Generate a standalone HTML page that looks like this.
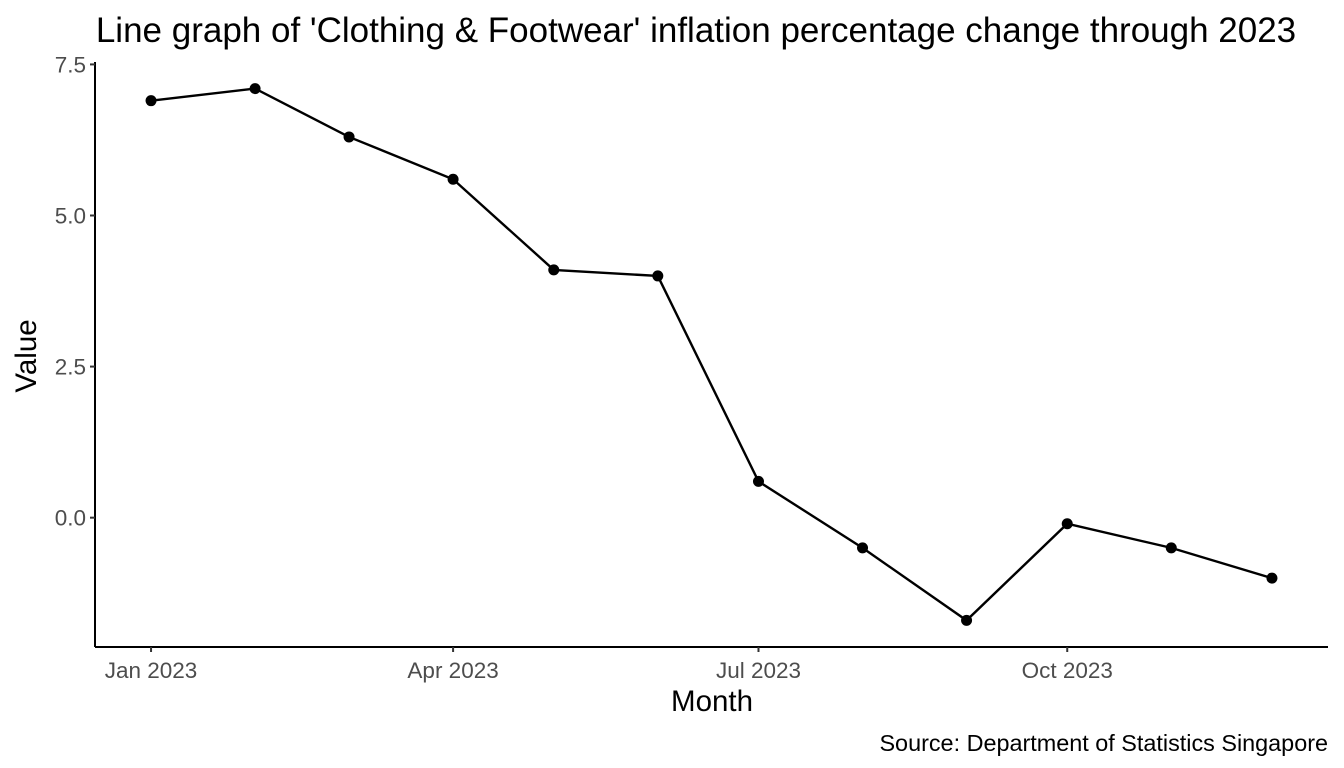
<!DOCTYPE html>
<html><head><meta charset="utf-8"><style>
html,body{margin:0;padding:0;background:#fff;}
svg{display:block;font-family:"Liberation Sans",sans-serif;}
</style></head><body>
<svg id="chart" width="1344" height="768" xmlns="http://www.w3.org/2000/svg">
<text x="696" y="42" font-size="35" text-anchor="middle" fill="#000">Line graph of 'Clothing &amp; Footwear' inflation percentage change through 2023</text>
<text x="712" y="711" font-size="29.5" text-anchor="middle" fill="#000">Month</text>
<text transform="translate(36,356) rotate(-90)" font-size="29.5" text-anchor="middle" fill="#000">Value</text>
<text x="1328" y="751" font-size="23.4" text-anchor="end" fill="#000">Source: Department of Statistics Singapore</text>
<g id="axes"></g>
<g id="marks"></g>
</svg>
<script>
const months = ["2023-01-01","2023-02-01","2023-03-01","2023-04-01","2023-05-01","2023-06-01","2023-07-01","2023-08-01","2023-09-01","2023-10-01","2023-11-01","2023-12-01"];
const values = [6.9,7.1,6.3,5.6,4.1,4.0,0.6,-0.5,-1.7,-0.1,-0.5,-1.0];
const yTicks = [0.0,2.5,5.0,7.5];
const yTickLabels = ["0.0","2.5","5.0","7.5"];
const xTicks = ["2023-01-01","2023-04-01","2023-07-01","2023-10-01"];
const xTickLabels = ["Jan 2023","Apr 2023","Jul 2023","Oct 2023"];

const NS="http://www.w3.org/2000/svg";
const L=95,R=1328,T=62,B=647;
const day=s=>Date.parse(s)/86400000;
const t0=day(months[0]),t1=day(months[months.length-1]);
const xp=(t1-t0)*0.05;
const xS=s=>L+(day(s)-(t0-xp))/((t1+xp)-(t0-xp))*(R-L);
const vmin=Math.min(...values),vmax=Math.max(...values),yp=(vmax-vmin)*0.05;
const yS=v=>B-(v-(vmin-yp))/((vmax+yp)-(vmin-yp))*(B-T);
function mk(tag,attrs,parent){const e=document.createElementNS(NS,tag);for(const k in attrs)e.setAttribute(k,attrs[k]);parent.appendChild(e);return e;}
const axes=document.getElementById('axes'),marks=document.getElementById('marks');
let e=mk('line',{x1:L,y1:T,x2:L,y2:B,stroke:'#000','stroke-width':2},axes);


e=mk('line',{x1:L,y1:B,x2:R,y2:B,stroke:'#000','stroke-width':2},axes);


yTicks.forEach((v,i)=>{const y=yS(v);
 const t=mk('line',{x1:L-5,y1:y,x2:L,y2:y,stroke:'#333','stroke-width':2},axes);
 
 
 const tx=mk('text',{x:L-9,y:y+8,'font-size':22.5,'text-anchor':'end',fill:'#4d4d4d'},axes);tx.textContent=yTickLabels[i];
 
 
});
xTicks.forEach((s,i)=>{const x=xS(s);
 const t=mk('line',{x1:x,y1:B,x2:x,y2:B+5,stroke:'#333','stroke-width':2},axes);
 
 
 const tx=mk('text',{x:x,y:B+31,'font-size':22.5,'text-anchor':'middle',fill:'#4d4d4d'},axes);tx.textContent=xTickLabels[i];
 
 
});
const pts=months.map((m,i)=>xS(m)+','+yS(values[i])).join(' ');
const pl=mk('polyline',{points:pts,fill:'none',stroke:'#000','stroke-width':2.4},marks);


months.forEach((m,i)=>{const c=mk('circle',{cx:xS(m),cy:yS(values[i]),r:5.5,fill:'#000'},marks);
 
 
});
</script>
</body></html>
